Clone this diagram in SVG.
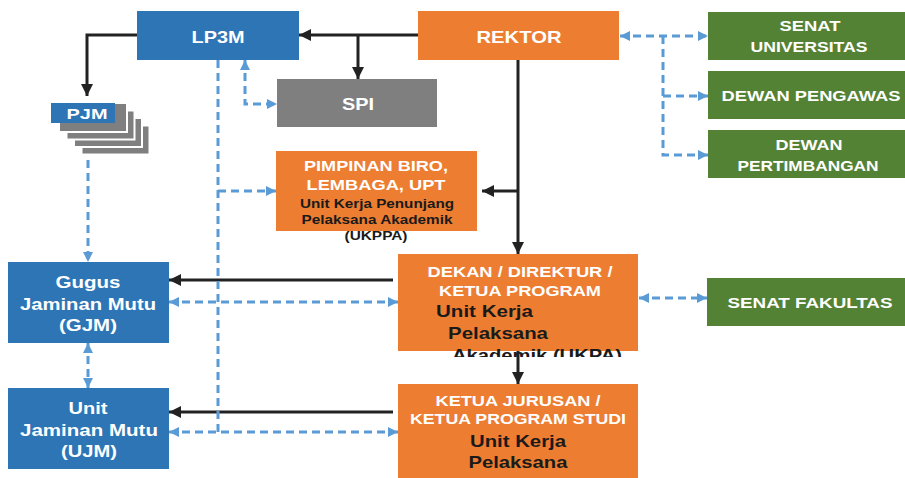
<svg xmlns="http://www.w3.org/2000/svg" width="905" height="478" viewBox="0 0 905 478">
<defs>
<style>
.t{font-family:"Liberation Sans",Arial,sans-serif;font-weight:bold;fill:#fff;text-anchor:middle}
.d{font-family:"Liberation Sans",Arial,sans-serif;font-weight:bold;fill:#1a1a1a}
.blue{fill:#2E75B6}.org{fill:#ED7D31}.grn{fill:#548235}.gry{fill:#7F7F7F}
.k{fill:none;stroke:#222;stroke-width:3}
.b{fill:none;stroke:#5B9BD5;stroke-width:3;stroke-dasharray:8 5}
.pg{fill:#7F7F7F;stroke:#fff;stroke-width:2}
</style>
<marker id="ak" markerUnits="userSpaceOnUse" markerWidth="14" markerHeight="14" refX="12" refY="6" orient="auto"><path d="M0,0 L12,6 L0,12 Z" fill="#222"/></marker>
<marker id="ab" markerUnits="userSpaceOnUse" markerWidth="12" markerHeight="12" refX="10" refY="5" orient="auto-start-reverse"><path d="M0,0 L10,5 L0,10 Z" fill="#5B9BD5"/></marker>
<clipPath id="cp"><rect x="398" y="254" width="240" height="103"/></clipPath>
</defs>

<g id="connectors">
<path class="k" d="M418,35 H299" marker-end="url(#ak)"/>
<path class="k" d="M358,35 V79" marker-end="url(#ak)"/>
<path class="k" d="M137,35 H87 V96" marker-end="url(#ak)"/>
<path class="k" d="M518,60 V254" marker-end="url(#ak)"/>
<path class="k" d="M518,191 H482" marker-end="url(#ak)"/>
<path class="k" d="M393,280 H169" marker-end="url(#ak)"/>
<path class="k" d="M518,351 V384" marker-end="url(#ak)"/>
<path class="k" d="M393,412 H169" marker-end="url(#ak)"/>

<path class="b" d="M620,36 H708" marker-start="url(#ab)" marker-end="url(#ab)"/>
<path class="b" d="M663,36 V155 H708" marker-end="url(#ab)"/>
<path class="b" d="M663,96 H708" marker-end="url(#ab)"/>
<path class="b" d="M218,60 V432"/>
<path class="b" d="M218,191 H276" marker-end="url(#ab)"/>
<path class="b" d="M245,60 V104 H277" marker-start="url(#ab)" marker-end="url(#ab)"/>
<path class="b" d="M88,134 V262" marker-start="url(#ab)" marker-end="url(#ab)"/>
<path class="b" d="M88,343 V388" marker-start="url(#ab)" marker-end="url(#ab)"/>
<path class="b" d="M169,302 H398" marker-start="url(#ab)" marker-end="url(#ab)"/>
<path class="b" d="M169,432 H398" marker-start="url(#ab)" marker-end="url(#ab)"/>
<path class="b" d="M639,298 H707" marker-start="url(#ab)" marker-end="url(#ab)"/>
</g>

<g id="lp3m"><rect class="blue" x="137" y="11" width="162" height="49"/><text class="t" x="218" y="43" font-size="17" textLength="53" lengthAdjust="spacingAndGlyphs">LP3M</text></g>
<g id="rektor"><rect class="org" x="418" y="11" width="201" height="49"/><text class="t" x="519" y="43" font-size="17" textLength="85" lengthAdjust="spacingAndGlyphs">REKTOR</text></g>
<g id="spi"><rect class="gry" x="277" y="79" width="160" height="48"/><text class="t" x="358" y="110" font-size="17" textLength="32" lengthAdjust="spacingAndGlyphs">SPI</text></g>
<g id="senat-univ"><rect class="grn" x="708" y="12" width="197" height="48"/><text class="t" x="810" y="31" font-size="15" textLength="61" lengthAdjust="spacingAndGlyphs">SENAT</text><text class="t" x="809" y="52" font-size="15" textLength="117" lengthAdjust="spacingAndGlyphs">UNIVERSITAS</text></g>
<g id="dewan-pengawas"><rect class="grn" x="708" y="71" width="197" height="48"/><text class="t" x="811" y="101" font-size="15" textLength="179" lengthAdjust="spacingAndGlyphs">DEWAN PENGAWAS</text></g>
<g id="dewan-pertimbangan"><rect class="grn" x="708" y="130" width="197" height="48"/><text class="t" x="809" y="150" font-size="15" textLength="67" lengthAdjust="spacingAndGlyphs">DEWAN</text><text class="t" x="808" y="171" font-size="15" textLength="141" lengthAdjust="spacingAndGlyphs">PERTIMBANGAN</text></g>
<g id="pimpinan"><rect class="org" x="276" y="151" width="201" height="80"/>
<text class="t" x="376" y="171" font-size="15" textLength="144" lengthAdjust="spacingAndGlyphs">PIMPINAN BIRO,</text>
<text class="t" x="376" y="190" font-size="15" textLength="139" lengthAdjust="spacingAndGlyphs">LEMBAGA, UPT</text>
<text class="d" x="377" y="208" font-size="12" text-anchor="middle" textLength="154" lengthAdjust="spacingAndGlyphs">Unit Kerja Penunjang</text>
<text class="d" x="377" y="224" font-size="12" text-anchor="middle" textLength="151" lengthAdjust="spacingAndGlyphs">Pelaksana Akademik</text>
<text class="d" x="376" y="240" font-size="12" text-anchor="middle" textLength="63" lengthAdjust="spacingAndGlyphs">(UKPPA)</text></g>
<g id="pjm">
<rect class="pg" x="81.5" y="125.5" width="68" height="29"/>
<rect class="pg" x="74" y="118" width="68" height="29"/>
<rect class="pg" x="66.5" y="110.5" width="68" height="29"/>
<rect class="pg" x="59" y="103" width="68" height="29"/>
<rect class="blue" x="51" y="103" width="64" height="20"/>
<text class="t" x="87" y="119" font-size="15" textLength="41" lengthAdjust="spacingAndGlyphs">PJM</text></g>
<g id="gjm"><rect class="blue" x="8" y="262" width="161" height="81"/>
<text class="t" x="88" y="288" font-size="17" textLength="65" lengthAdjust="spacingAndGlyphs">Gugus</text>
<text class="t" x="88" y="310" font-size="17" textLength="136" lengthAdjust="spacingAndGlyphs">Jaminan Mutu</text>
<text class="t" x="88" y="331" font-size="17" textLength="58" lengthAdjust="spacingAndGlyphs">(GJM)</text></g>
<g id="ujm"><rect class="blue" x="8" y="388" width="161" height="81"/>
<text class="t" x="88" y="414" font-size="17" textLength="39" lengthAdjust="spacingAndGlyphs">Unit</text>
<text class="t" x="89" y="436" font-size="17" textLength="138" lengthAdjust="spacingAndGlyphs">Jaminan Mutu</text>
<text class="t" x="89" y="457" font-size="17" textLength="56" lengthAdjust="spacingAndGlyphs">(UJM)</text></g>
<g id="dekan"><rect class="org" x="398" y="254" width="240" height="97"/>
<text class="t" x="520" y="277" font-size="15" textLength="185" lengthAdjust="spacingAndGlyphs">DEKAN / DIREKTUR /</text>
<text class="t" x="520" y="296" font-size="15" textLength="162" lengthAdjust="spacingAndGlyphs">KETUA PROGRAM</text>
<text class="d" x="436" y="317" font-size="17" textLength="97" lengthAdjust="spacingAndGlyphs">Unit Kerja</text>
<text class="d" x="448" y="339" font-size="17" textLength="100" lengthAdjust="spacingAndGlyphs">Pelaksana</text>
<text class="d" x="452" y="361" font-size="17" textLength="170" lengthAdjust="spacingAndGlyphs" clip-path="url(#cp)">Akademik (UKPA)</text></g>
<g id="ketua-jurusan"><rect class="org" x="398" y="384" width="240" height="94"/>
<text class="t" x="518" y="406" font-size="15" textLength="165" lengthAdjust="spacingAndGlyphs">KETUA JURUSAN /</text>
<text class="t" x="518" y="424" font-size="15" textLength="216" lengthAdjust="spacingAndGlyphs">KETUA PROGRAM STUDI</text>
<text class="d" x="518" y="447" font-size="17" text-anchor="middle" textLength="96" lengthAdjust="spacingAndGlyphs">Unit Kerja</text>
<text class="d" x="518" y="468" font-size="17" text-anchor="middle" textLength="99" lengthAdjust="spacingAndGlyphs">Pelaksana</text></g>
<g id="senat-fakultas"><rect class="grn" x="707" y="278" width="198" height="48"/><text class="t" x="810" y="308" font-size="15" textLength="165" lengthAdjust="spacingAndGlyphs">SENAT FAKULTAS</text></g>
</svg>
